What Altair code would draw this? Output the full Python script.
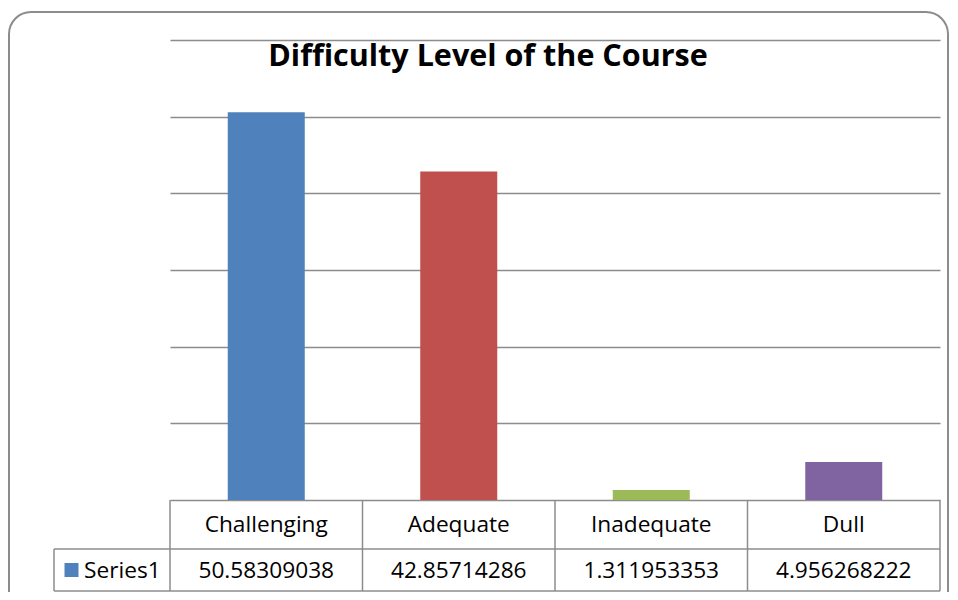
import altair as alt
import pandas as pd

categories = ["Challenging", "Adequate", "Inadequate", "Dull"]
values = [50.58309038, 42.85714286, 1.311953353, 4.956268222]
colors = ["#4F81BD", "#C0504D", "#9BBB59", "#8064A2"]
series_name = "Series1"
title_text = "Difficulty Level of the Course"
y_ticks = [0, 10, 20, 30, 40, 50, 60]

df = pd.DataFrame({"cat": categories, "value": values})
one = pd.DataFrame({"k": [0]})
last = pd.DataFrame({"cat": [categories[-1]]})

GRAY = "#8c8c8c"
FONT = "Open Sans"
W, H = 770, 460
STEP = W / len(categories)

xscale = alt.Scale(domain=categories, paddingInner=0.6, paddingOuter=0.3)
xenc = alt.X("cat:N", sort=categories, scale=xscale, axis=None)

border = alt.Chart(one).mark_rect(filled=False, stroke=GRAY, strokeWidth=2, cornerRadius=22).encode(
    x=alt.value(-161), x2=alt.value(778), y=alt.value(-28), y2=alt.value(640)
)

bars = alt.Chart(df).mark_bar().encode(
    x=xenc,
    y=alt.Y("value:Q", scale=alt.Scale(domain=[0, 60], nice=False),
            axis=alt.Axis(values=y_ticks, labels=False, ticks=False, domain=False,
                          title=None, gridColor=GRAY, gridWidth=1.5)),
    color=alt.Color("cat:N", scale=alt.Scale(domain=categories, range=colors), legend=None),
)

# table column separators (left edge of each category cell, plus right edge of last)
vlines = alt.Chart(df).mark_rule(color=GRAY, strokeWidth=1.5, xOffset=-STEP / 2).encode(
    x=xenc, y=alt.value(H), y2=alt.value(551))
vlast = alt.Chart(last).mark_rule(color=GRAY, strokeWidth=1.5, xOffset=STEP / 2).encode(
    x=xenc, y=alt.value(H), y2=alt.value(551))

header = alt.Chart(df).mark_text(font=FONT, fontSize=22.7, color="black", baseline="middle").encode(
    x=xenc, y=alt.value(485), text="cat:N"
)

vals = alt.Chart(df).mark_text(font=FONT, fontSize=22.7, color="black", baseline="middle").encode(
    x=xenc, y=alt.value(531), text=alt.Text("value:Q", format=".10r")
)

r1 = alt.Chart(one).mark_rule(color=GRAY, strokeWidth=1.5).encode(
    x=alt.value(-116), x2=alt.value(W), y=alt.value(509))
r2 = alt.Chart(one).mark_rule(color=GRAY, strokeWidth=1.5).encode(
    x=alt.value(-116), x2=alt.value(W), y=alt.value(551))
r3 = alt.Chart(one).mark_rule(color=GRAY, strokeWidth=1.5).encode(
    x=alt.value(-116), y=alt.value(509), y2=alt.value(551))

legend_sq = alt.Chart(one).mark_square(size=196, color=colors[0], opacity=1, filled=True).encode(
    x=alt.value(-98.5), y=alt.value(530))
legend_txt = alt.Chart(pd.DataFrame({"s": [series_name]})).mark_text(
    font=FONT, fontSize=22.7, color="black", align="left", baseline="middle").encode(
    x=alt.value(-86), y=alt.value(531), text="s:N")

title = alt.Chart(pd.DataFrame({"t": [title_text]})).mark_text(
    font=FONT, fontSize=30.5, fontWeight="bold", color="black", align="center", baseline="alphabetic").encode(
    x=alt.value(318), y=alt.value(26), text="t:N")

chart = alt.layer(border, bars, vlines, vlast, header, vals, r1, r2, r3,
                  legend_sq, legend_txt, title).properties(
    width=W, height=H,
    autosize=alt.AutoSizeParams(type="none"),
    padding={"left": 162, "top": 32, "right": 10, "bottom": 92},
    background="white",
).configure_view(stroke=None)

chart.save("out.html", embed_options={"renderer": "svg", "actions": False})
